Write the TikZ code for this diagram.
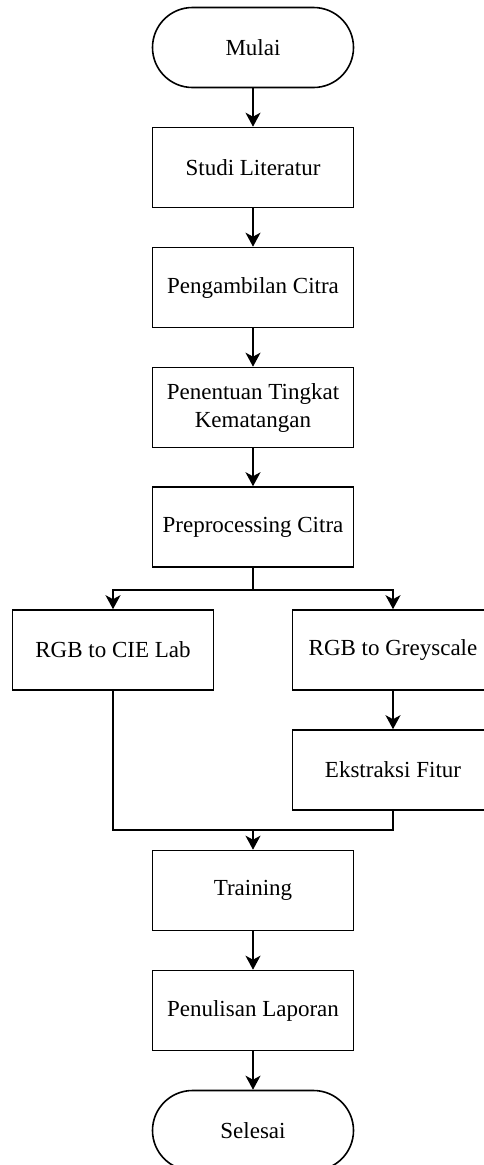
\documentclass[tikz,border=0pt]{standalone}
\usepackage{fontspec}
\setmainfont{Liberation Serif}
\usepackage{tikz}
\usetikzlibrary{arrows.meta}

\begin{document}
\begin{tikzpicture}[x=1pt,y=-1pt,
    font=\fontsize{23}{28}\selectfont,
    proc/.style={draw,line width=1.6pt,minimum width=201pt,minimum height=80pt,align=center,inner sep=2pt},
    term/.style={proc,rounded corners=40pt},
    arr/.style={line width=1.6pt,-{Stealth[length=14pt,width=15pt,inset=4pt]}},
    ln/.style={line width=1.6pt}]
    \useasboundingbox (0,0) rectangle (484,1165);
    % alur utama
    \node[term] (mulai) at (253,47.5) {Mulai};
    \node[proc] (studi) at (253,167.5) {Studi Literatur};
    \node[proc] (ambil) at (253,287.5) {Pengambilan Citra};
    \node[proc] (tingkat) at (253,407.5) {Penentuan Tingkat\\Kematangan};
    \node[proc] (prepro) at (253,527) {Preprocessing Citra};
    % dua cabang
    \node[proc] (lab) at (113,650) {RGB to CIE Lab};
    \node[proc] (grey) at (393,650) {RGB to Greyscale};
    \node[proc] (fitur) at (393,770) {Ekstraksi Fitur};
    \node[proc] (train) at (253,890.5) {Training};
    \node[proc] (lapor) at (253,1010.5) {Penulisan Laporan};
    \node[term] (selesai) at (253,1130.5) {Selesai};
    \coordinate (pisah) at (253,590);
    \coordinate (gabung) at (253,830);

    \draw[arr] (mulai) -- (studi);
    \draw[arr] (studi) -- (ambil);
    \draw[arr] (ambil) -- (tingkat);
    \draw[arr] (tingkat) -- (prepro);
    \draw[ln] (prepro) -- (pisah);
    \draw[arr] (pisah) -| (lab);
    \draw[arr] (pisah) -| (grey);
    \draw[arr] (grey) -- (fitur);
    \draw[ln] (lab) |- (gabung);
    \draw[ln] (fitur) |- (gabung);
    \draw[arr] (gabung) -- (train);
    \draw[arr] (train) -- (lapor);
    \draw[arr] (lapor) -- (selesai);
  \end{tikzpicture}
\end{document}
